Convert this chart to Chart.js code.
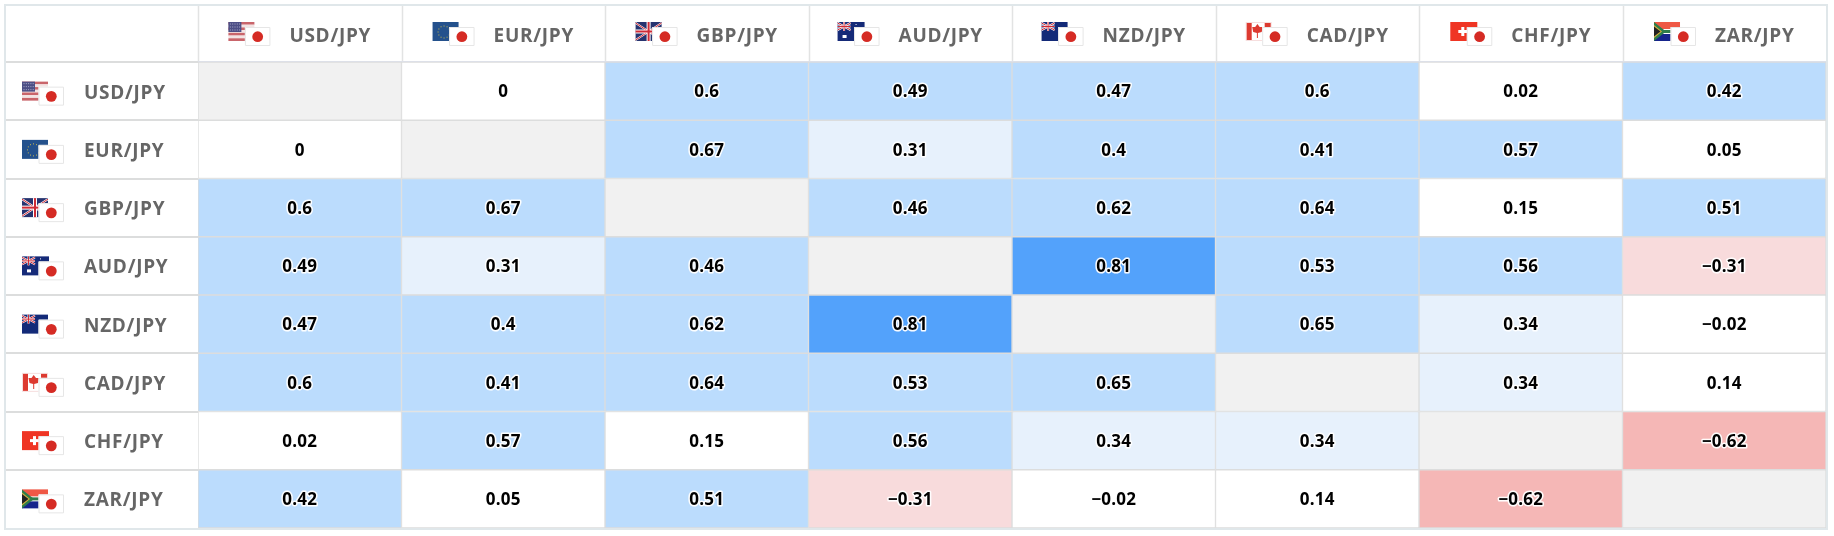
<!DOCTYPE html>
<html>
<head>
<meta charset="utf-8">
<style>
  html, body { margin: 0; padding: 0; background: #fff; }
  #wrap { width: 1834px; height: 536px; }
</style>
<script src="https://cdn.jsdelivr.net/npm/chart.js@4"></script>
</head>
<body>
<div id="wrap"><canvas id="grafico"></canvas></div>
<script>
const PARES = ["USD/JPY", "EUR/JPY", "GBP/JPY", "AUD/JPY", "NZD/JPY", "CAD/JPY", "CHF/JPY", "ZAR/JPY"];

// uma lista por coluna; null = diagonal
const USD = [null, 0, 0.6, 0.49, 0.47, 0.6, 0.02, 0.42];
const EUR = [0, null, 0.67, 0.31, 0.4, 0.41, 0.57, 0.05];
const GBP = [0.6, 0.67, null, 0.46, 0.62, 0.64, 0.15, 0.51];
const AUD = [0.49, 0.31, 0.46, null, 0.81, 0.53, 0.56, -0.31];
const NZD = [0.47, 0.4, 0.62, 0.81, null, 0.65, 0.34, -0.02];
const CAD = [0.6, 0.41, 0.64, 0.53, 0.65, null, 0.34, 0.14];
const CHF = [0.02, 0.57, 0.15, 0.56, 0.34, 0.34, null, -0.62];
const ZAR = [0.42, 0.05, 0.51, -0.31, -0.02, 0.14, -0.62, null];
const COLUNAS = [USD, EUR, GBP, AUD, NZD, CAD, CHF, ZAR];

const COR_LINHA = "#dcdddd";
const COR_MOLDURA = "#e0e7ea";
const FONTE = '"Open Sans", "Noto Sans", sans-serif';
const FONTE_ROTULO = { family: FONTE, size: 19, weight: "700" };
const ESPACO_ROTULO = "0.7px";

function corCelula(v) {
  if (v === null) return "#f1f1f1";
  if (v >= 0.7) return "#53a2fb";
  if (v >= 0.4) return "#bbdcfd";
  if (v >= 0.3) return "#e7f1fc";
  if (v > -0.3) return "#ffffff";
  if (v > -0.5) return "#f8dbdc";
  return "#f5b7b6";
}

function fmtValor(v) {
  return v < 0 ? "\u2212" + Math.abs(v) : String(v);
}

// bandeirinhas: a moeda base por baixo, o iene por cima
function listras(ctx, x, y, w, h, cores) {
  const passo = h / cores.length;
  cores.forEach((c, i) => {
    ctx.fillStyle = c;
    ctx.fillRect(x, y + i * passo, w, passo);
  });
}

function uniao(ctx, x, y, w, h) {
  ctx.beginPath();
  ctx.moveTo(x, y + 1); ctx.lineTo(x + w, y + h - 1);
  ctx.moveTo(x + w, y + 1); ctx.lineTo(x, y + h - 1);
  ctx.strokeStyle = "#fff"; ctx.lineWidth = 2; ctx.stroke();
  ctx.strokeStyle = "#cf2b36"; ctx.lineWidth = 1; ctx.stroke();
  const t = h > 12 ? 2 : 1;
  ctx.fillStyle = "#fff";
  ctx.fillRect(x + w / 2 - t, y, t * 2, h);
  ctx.fillRect(x, y + h / 2 - t, w, t * 2);
  ctx.fillStyle = "#cf2b36";
  ctx.fillRect(x + w / 2 - t / 2, y, t, h);
  ctx.fillRect(x, y + h / 2 - t / 2, w, t);
}

const BANDEIRAS = {
  USD(ctx, x, y) {
    listras(ctx, x, y, 26, 19, ["#c9656b", "#f3e3e3", "#c9656b", "#f3e3e3", "#c9656b", "#f3e3e3", "#c9656b"]);
    ctx.fillStyle = "#4d4f86";
    ctx.fillRect(x, y, 13, 10);
    ctx.fillStyle = "#a9aac8";
    for (let i = 0; i < 5; i++) {
      for (let j = 0; j < 3; j++) ctx.fillRect(x + 1.5 + i * 2.3, y + 1.5 + j * 3, 1, 1);
    }
  },
  EUR(ctx, x, y) {
    ctx.fillStyle = "#24518c";
    ctx.fillRect(x, y, 26, 19);
    ctx.fillStyle = "#c9b84c";
    for (let i = 0; i < 12; i++) {
      const a = i * Math.PI / 6;
      ctx.fillRect(x + 11 + Math.cos(a) * 6, y + 9.5 + Math.sin(a) * 6, 1, 1);
    }
  },
  GBP(ctx, x, y) {
    ctx.fillStyle = "#26336f";
    ctx.fillRect(x, y, 26, 19);
    uniao(ctx, x, y, 26, 19);
  },
  AUD(ctx, x, y) {
    ctx.fillStyle = "#152a78";
    ctx.fillRect(x, y, 27, 19);
    uniao(ctx, x, y, 13, 9);
    ctx.fillStyle = "#fff";
    ctx.fillRect(x + 5, y + 13, 4, 3);
    ctx.fillRect(x + 18, y + 2, 1, 1);
  },
  NZD(ctx, x, y) {
    ctx.fillStyle = "#132a78";
    ctx.fillRect(x, y, 26, 19);
    uniao(ctx, x, y, 13, 9);
  },
  CAD(ctx, x, y) {
    ctx.fillStyle = "#f6dede";
    ctx.fillRect(x, y, 26, 19);
    ctx.fillStyle = "#fff";
    ctx.fillRect(x + 1, y + 1, 24, 17);
    ctx.fillStyle = "#dd3a30";
    ctx.fillRect(x + 1, y + 1, 5, 17);
    ctx.fillRect(x + 19, y + 1, 6, 4);
    // folha
    ctx.beginPath();
    ctx.moveTo(x + 11.7, y + 2);
    ctx.lineTo(x + 14, y + 5);
    ctx.lineTo(x + 17, y + 5);
    ctx.lineTo(x + 16, y + 10);
    ctx.lineTo(x + 12.2, y + 11);
    ctx.lineTo(x + 12.2, y + 16);
    ctx.lineTo(x + 11.2, y + 16);
    ctx.lineTo(x + 11.2, y + 11);
    ctx.lineTo(x + 7.5, y + 10);
    ctx.lineTo(x + 6.5, y + 5);
    ctx.lineTo(x + 9.5, y + 5);
    ctx.closePath();
    ctx.fill();
  },
  CHF(ctx, x, y) {
    ctx.fillStyle = "#ef3524";
    ctx.fillRect(x, y, 27, 19);
    ctx.fillStyle = "#fff";
    ctx.fillRect(x + 8, y + 8, 10, 3);
    ctx.fillRect(x + 11, y + 5, 3, 9);
  },
  ZAR(ctx, x, y) {
    ctx.fillStyle = "#ef5845";
    ctx.fillRect(x, y, 26, 8);
    ctx.fillStyle = "#16248c";
    ctx.fillRect(x, y + 11, 26, 8);
    ctx.fillStyle = "#fff";
    ctx.fillRect(x, y + 7, 26, 5);
    ctx.fillStyle = "#2f7d4a";
    ctx.fillRect(x, y + 8, 26, 3);
    ctx.beginPath();
    ctx.moveTo(x, y); ctx.lineTo(x + 12, y + 9.5); ctx.lineTo(x, y + 19); ctx.closePath();
    ctx.fill();
    ctx.fillStyle = "#d8b23c";
    ctx.beginPath();
    ctx.moveTo(x, y + 3); ctx.lineTo(x + 8, y + 9.5); ctx.lineTo(x, y + 16); ctx.closePath();
    ctx.fill();
    ctx.fillStyle = "#222";
    ctx.beginPath();
    ctx.moveTo(x, y + 4.5); ctx.lineTo(x + 6.5, y + 9.5); ctx.lineTo(x, y + 14.5); ctx.closePath();
    ctx.fill();
  },
};

function desenhaPar(ctx, par, x, y) {
  BANDEIRAS[par.slice(0, 3)](ctx, x, y);
  ctx.fillStyle = "#fff";
  ctx.fillRect(x + 16.5, y + 5, 25, 18.5);
  ctx.strokeStyle = "#e6e6e6";
  ctx.lineWidth = 1;
  ctx.strokeRect(x + 17, y + 5.5, 24.5, 18);
  ctx.fillStyle = "#d52b24";
  ctx.beginPath();
  ctx.arc(x + 29.3, y + 14.7, 5.4, 0, Math.PI * 2);
  ctx.fill();
}

const tabela = {
  id: "tabela",
  beforeDraw(chart) {
    // moldura e linhas do cabeçalho e da primeira coluna
    const { ctx, chartArea: a, scales } = chart;
    ctx.save();
    ctx.strokeStyle = "#e2e3e3";
    ctx.lineWidth = 1.5;
    ctx.beginPath();
    COLUNAS.forEach((_, i) => {
      const x = Math.round(scales.x.getPixelForValue(i)) + 0.5;
      ctx.moveTo(x, 6); ctx.lineTo(x, a.top);
    });
    ctx.stroke();
    ctx.strokeStyle = COR_LINHA;
    ctx.lineWidth = 2;
    ctx.beginPath();
    PARES.forEach((_, i) => {
      const y = Math.round(scales.y.getPixelForValue(i) - (a.bottom - a.top) / 16);
      ctx.moveTo(6, y); ctx.lineTo(a.left, y);
    });
    ctx.stroke();
    ctx.fillStyle = "#dde0e8";
    ctx.fillRect(a.left, a.top - 1, a.right - a.left, 2);
    ctx.strokeStyle = COR_MOLDURA;
    ctx.lineWidth = 2;
    ctx.strokeRect(5, 5, 1822, 524);
    ctx.restore();
    // vale para os rótulos dos eixos, desenhados logo depois
    ctx.letterSpacing = ESPACO_ROTULO;
  },
  afterDraw(chart) {
    const { ctx, scales, data } = chart;
    ctx.save();
    // valores com halo branco
    ctx.font = "700 17px " + FONTE;
    ctx.letterSpacing = "0.2px";
    ctx.textAlign = "center";
    ctx.textBaseline = "middle";
    ctx.lineJoin = "round";
    data.datasets.forEach((ds, c) => {
      chart.getDatasetMeta(c).data.forEach((barra, l) => {
        const v = ds.correl[l];
        if (v === null) return;
        const rot = fmtValor(v);
        const cx = barra.base + (barra.x - barra.base) / 2;
        if (corCelula(v) !== "#ffffff") {
          ctx.strokeStyle = "rgba(255,255,255,.95)";
          ctx.lineWidth = 3;
          ctx.strokeText(rot, cx, barra.y + 1.5);
        }
        ctx.fillStyle = "#000";
        ctx.fillText(rot, cx, barra.y + 1.5);
      });
    });
    // bandeiras ao lado dos rótulos dos eixos
    ctx.letterSpacing = ESPACO_ROTULO;
    ctx.font = `${FONTE_ROTULO.weight} ${FONTE_ROTULO.size}px ${FONTE}`;
    PARES.forEach((par, i) => {
      const w = ctx.measureText(par).width;
      const cx = scales.topo.getPixelForTick(i) + 30.5;
      desenhaPar(ctx, par, cx - w / 2 - 61, 22);
      desenhaPar(ctx, par, 22, scales.y.getPixelForTick(i) - 9.5);
    });
    ctx.restore();
  },
};

new Chart(document.getElementById("grafico"), {
  type: "bar",
  plugins: [tabela],
  data: {
    labels: PARES,
    datasets: COLUNAS.map((col, c) => ({
      label: PARES[c],
      correl: col,
      data: col.map(() => [c, c + 1]),
      backgroundColor: col.map(corCelula),
      borderColor: COR_LINHA,
      borderWidth: 1,
      borderSkipped: false,
      grouped: false,
      categoryPercentage: 1,
      barPercentage: 1,
      xAxisID: "x",
    })),
  },
  options: {
    indexAxis: "y",
    responsive: true,
    maintainAspectRatio: false,
    animation: false,
    layout: { padding: { left: 84, top: 6, right: 8, bottom: 8 } },
    plugins: { legend: { display: false }, tooltip: { enabled: false } },
    scales: {
      x: { type: "linear", min: 0, max: 8, display: false },
      topo: {
        type: "category",
        labels: PARES,
        position: "top",
        axis: "x",
        offset: true,
        border: { display: false },
        grid: { display: false },
        ticks: {
          color: "#666",
          font: FONTE_ROTULO,
          labelOffset: 30.5,
          padding: 6,
          maxRotation: 0,
          autoSkip: false,
        },
        afterFit(scale) { scale.height = 56; },
      },
      y: {
        type: "category",
        labels: PARES,
        offset: true,
        border: { display: false },
        grid: { display: false },
        ticks: {
          color: "#666",
          font: FONTE_ROTULO,
          crossAlign: "far",
          labelOffset: 2,
          autoSkip: false,
        },
        afterFit(scale) {
          scale.width = 114;
          // sem a folga de meia etiqueta que o Chart.js reserva
          scale.paddingTop = 0;
          scale.paddingBottom = 0;
        },
      },
    },
  },
});
</script>
</body>
</html>
